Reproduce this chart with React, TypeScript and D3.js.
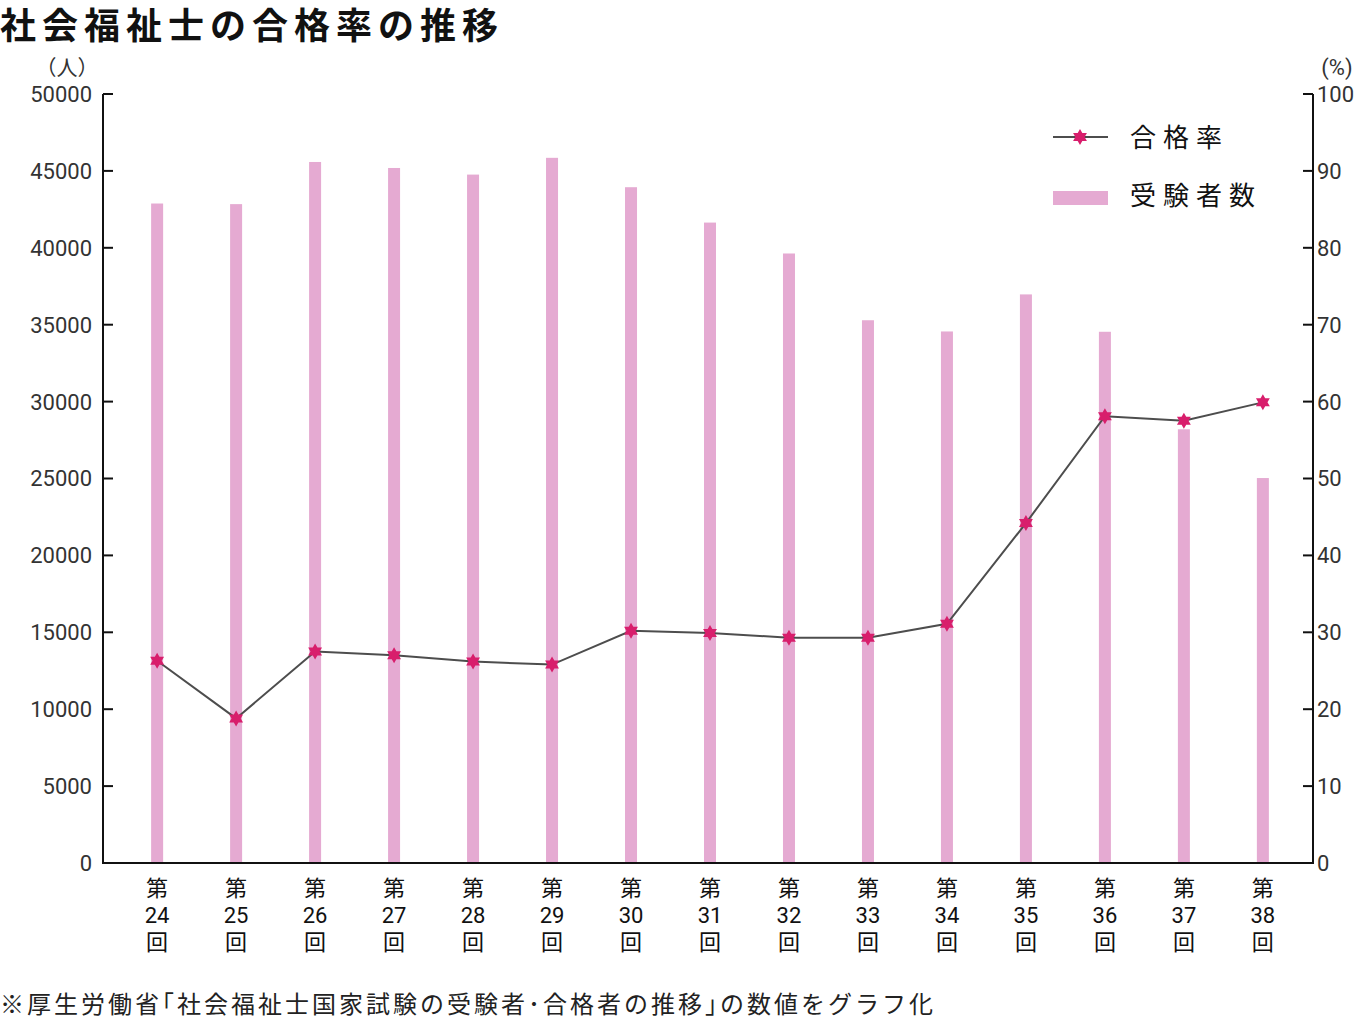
import * as d3 from "d3";

const rounds = ["24", "25", "26", "27", "28", "29", "30", "31", "32", "33", "34", "35", "36", "37", "38"];
const examinees = [42880, 42840, 45580, 45190, 44760, 45850, 43940, 41640, 39630, 35290, 34560, 36970, 34540, 28200, 25030];
const passRate = [26.3, 18.8, 27.5, 27.0, 26.2, 25.8, 30.2, 29.9, 29.3, 29.3, 31.1, 44.2, 58.1, 57.5, 59.9];
const leftTicks = [0, 5000, 10000, 15000, 20000, 25000, 30000, 35000, 40000, 45000, 50000];
const rightTicks = [0, 10, 20, 30, 40, 50, 60, 70, 80, 90, 100];

const W = 1360;
const H = 1030;
const margin = { left: 103, right: 47, top: 94, bottom: 167 };
const plotBottom = H - margin.bottom;
const jp = "'Noto Sans CJK JP', 'Noto Sans', sans-serif";
const num = "Roboto, 'Noto Sans', sans-serif";
const barColor = "#e5aad2";
const starColor = "#d81e6c";

// six-pointed star (two triangles)
const hexagram = (r: number): string => {
  const tri = (off: number) =>
    d3.range(3).map((i) => {
      const a = off + (i * 2 * Math.PI) / 3;
      return [r * Math.sin(a), -r * Math.cos(a)];
    });
  const p = d3.path();
  [0, Math.PI].forEach((off) => {
    const pts = tri(off);
    p.moveTo(pts[0][0], pts[0][1]);
    p.lineTo(pts[1][0], pts[1][1]);
    p.lineTo(pts[2][0], pts[2][1]);
    p.closePath();
  });
  return p.toString();
};

export default function App() {
  const rightX = W - margin.right;
  const x = d3
    .scalePoint<string>()
    .domain(rounds)
    .range([margin.left + 2, rightX + 2])
    .padding(0.66);
  const yL = d3.scaleLinear().domain([0, 50000]).range([plotBottom, margin.top]);
  const yR = d3.scaleLinear().domain([0, 100]).range([plotBottom, margin.top]);
  const barW = 12;

  const line = d3
    .line<number>()
    .x((_, i) => x(rounds[i]) as number)
    .y((d) => yR(d));

  const star = hexagram(8);

  return (
    <svg width={W} height={H} style={{ position: "absolute", left: 0, top: 0, background: "#fff" }}>
      <text x={0} y={39} fontFamily={jp} fontSize={36} fontWeight={700} letterSpacing={6} fill="#111">
        社会福祉士の合格率の推移
      </text>

      {/* bars */}
      {examinees.map((v, i) => (
        <rect
          key={rounds[i]}
          x={(x(rounds[i]) as number) - barW / 2}
          y={yL(v)}
          width={barW}
          height={plotBottom - yL(v)}
          fill={barColor}
        />
      ))}

      {/* left axis */}
      <line x1={margin.left} x2={margin.left} y1={margin.top} y2={plotBottom + 1} stroke="#111" strokeWidth={2} />
      {leftTicks.map((t) => (
        <g key={t}>
          <line x1={margin.left} x2={margin.left + 10} y1={yL(t)} y2={yL(t)} stroke="#111" strokeWidth={2} />
          <text x={92} y={yL(t)} dy="0.36em" textAnchor="end" fontFamily={num} fontSize={22} fill="#333">
            {t}
          </text>
        </g>
      ))}
      <text x={67} y={75} textAnchor="middle" fontFamily={jp} fontSize={21} fill="#333">
        （人）
      </text>

      {/* right axis */}
      <line x1={rightX} x2={rightX} y1={margin.top} y2={plotBottom + 1} stroke="#111" strokeWidth={2} />
      {rightTicks.map((t) => (
        <g key={t}>
          <line x1={rightX - 10} x2={rightX} y1={yR(t)} y2={yR(t)} stroke="#111" strokeWidth={2} />
          <text x={rightX + 4} y={yR(t)} dy="0.36em" textAnchor="start" fontFamily={num} fontSize={22} fill="#333">
            {t}
          </text>
        </g>
      ))}
      <text x={1337} y={75} textAnchor="middle" fontFamily={num} fontSize={22} fill="#333">
        (%)
      </text>

      {/* bottom axis */}
      <line x1={margin.left - 1} x2={rightX + 1} y1={plotBottom} y2={plotBottom} stroke="#111" strokeWidth={2} />
      {rounds.map((r) => (
        <g key={r} fontFamily={jp} fontSize={22} fill="#111" textAnchor="middle">
          <text x={x(r)} y={896}>第</text>
          <text x={x(r)} y={923} fontFamily={num}>{r}</text>
          <text x={x(r)} y={950}>回</text>
        </g>
      ))}

      {/* rate line */}
      <path d={line(passRate) ?? ""} fill="none" stroke="#4d4d4d" strokeWidth={2} />
      {passRate.map((v, i) => (
        <path key={rounds[i]} d={star} transform={`translate(${x(rounds[i])},${yR(v)})`} fill={starColor} />
      ))}

      {/* legend */}
      <line x1={1053} x2={1108} y1={137} y2={137} stroke="#4d4d4d" strokeWidth={2} />
      <path d={star} transform="translate(1080,137)" fill={starColor} />
      <text x={1130} y={147} fontFamily={jp} fontSize={26} letterSpacing={7} fill="#111">
        合格率
      </text>
      <rect x={1053} y={191} width={55} height={14} fill={barColor} />
      <text x={1130} y={205} fontFamily={jp} fontSize={26} letterSpacing={7} fill="#111">
        受験者数
      </text>

      <text x={0} y={1013} fontFamily={jp} fontSize={24} letterSpacing={3} fill="#222">
        ※厚生労働省｢社会福祉士国家試験の受験者･合格者の推移｣の数値をグラフ化
      </text>
    </svg>
  );
}
